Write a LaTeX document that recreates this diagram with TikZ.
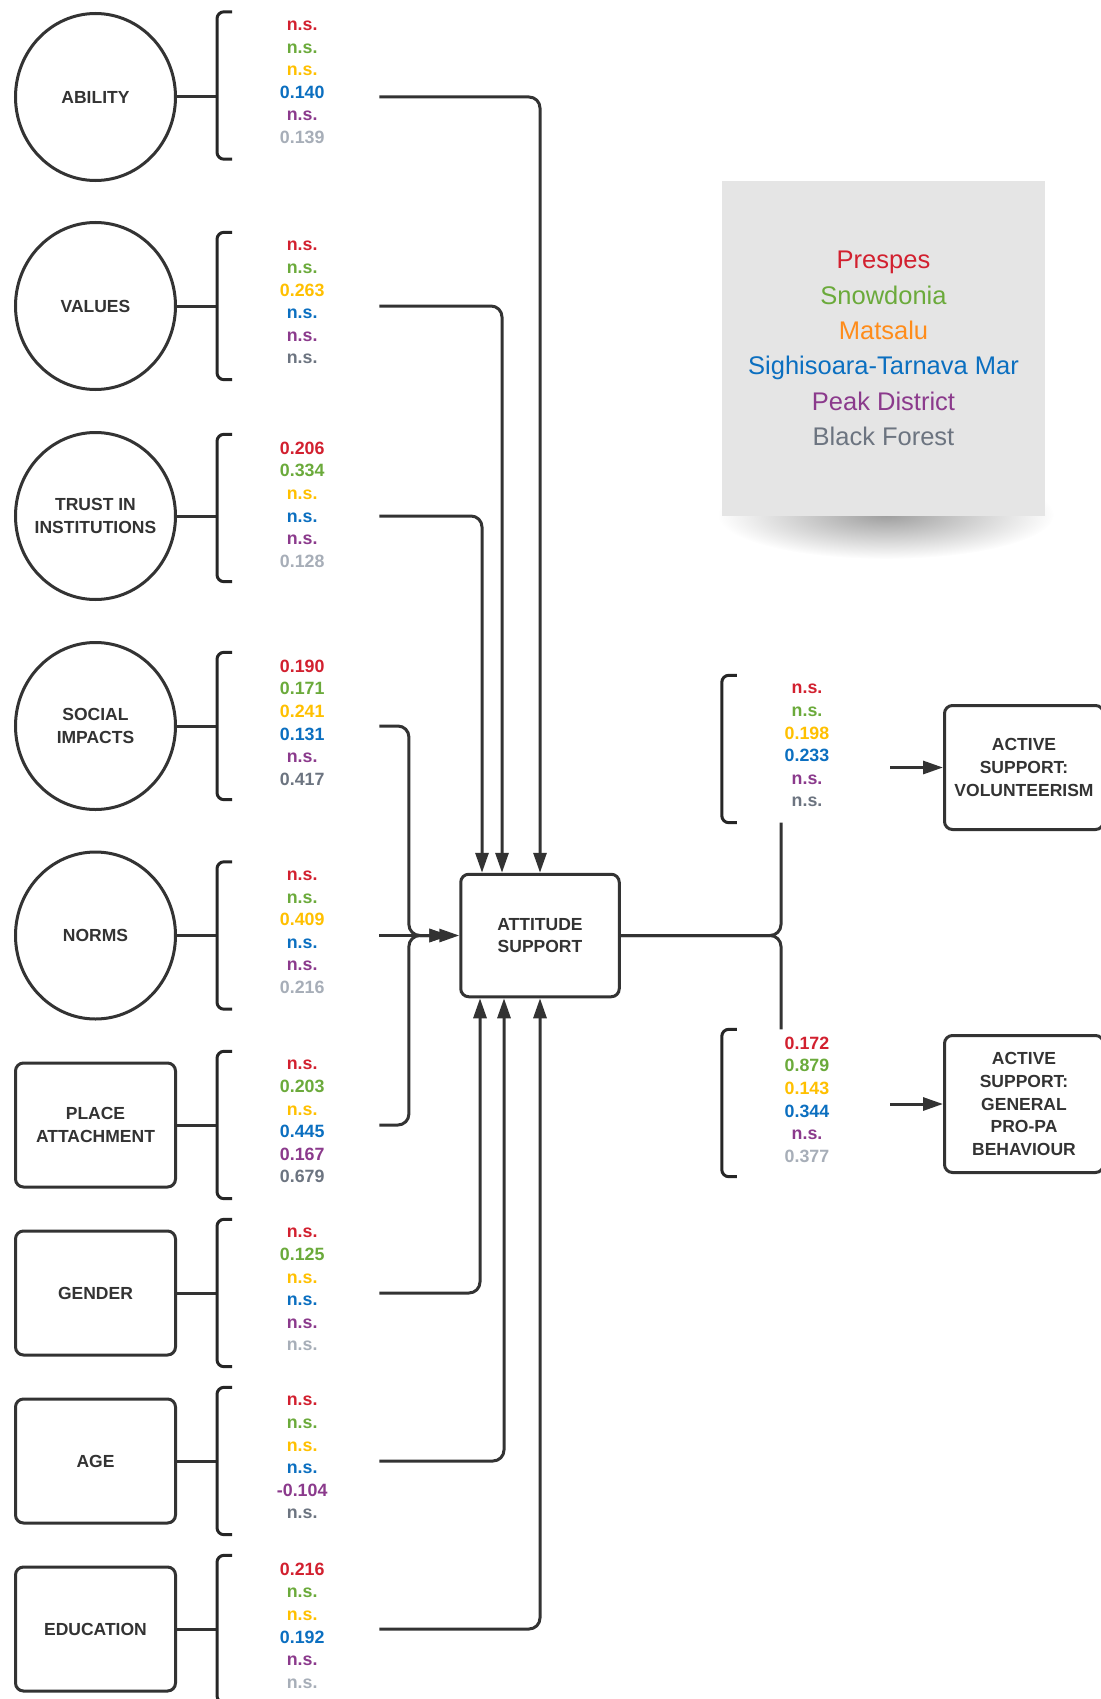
\documentclass[tikz,border=0pt]{standalone}
\usepackage{fontspec}
\setmainfont{Liberation Sans}
\usetikzlibrary{positioning,arrows.meta,fadings,shapes.geometric}
\definecolor{ink}{HTML}{333333}
\definecolor{prespes}{HTML}{D2202F}
\definecolor{snowdonia}{HTML}{6BAA3B}
\definecolor{matsalu}{HTML}{FFC000}
\definecolor{matsalukey}{HTML}{FF8C1A}
\definecolor{tarnava}{HTML}{0B6FC0}
\definecolor{peak}{HTML}{8B3A8C}
\definecolor{forest}{HTML}{6C7480}
\definecolor{forestlight}{HTML}{A7AEB8}
\definecolor{keyfill}{HTML}{E5E5E5}
\tikzfading[name=softshadow, inner color=transparent!62, outer color=transparent!100]

\begin{document}
\begin{tikzpicture}[x=1pt,y=-1pt,construct/.style={draw=ink, line width=3pt, ellipse, minimum width=160pt, minimum height=167pt, inner sep=-15pt, align=center, text=ink, font=\bfseries\fontsize{17.5}{22.7}\selectfont},observed/.style={draw=ink, line width=3pt, rounded corners=8pt, minimum width=160pt, minimum height=124pt, inner sep=0pt, align=center, text=ink, font=\bfseries\fontsize{17.5}{22.7}\selectfont},coef/.style={minimum width=154pt, minimum height=147pt, inner sep=0pt, align=center, font=\bfseries\fontsize{17.8}{22.6}\selectfont, execute at begin node=\strut},brace/.style={draw=black!85, line width=3pt, rounded corners=7pt},conn/.style={draw=ink, line width=3pt, rounded corners=11pt},arrow/.style={conn, -{Triangle[length=20pt,width=13pt]}}]
\useasboundingbox[fill=white] (0,0) rectangle (1100,1699);
\node[construct] (ability) at (95.5,97) {ABILITY};
\node[construct] (values) at (95.5,306) {VALUES};
\node[construct] (trust) at (95.5,516) {TRUST IN\\INSTITUTIONS};
\node[construct] (social) at (95.5,726) {SOCIAL\\IMPACTS};
\node[construct] (norms) at (95.5,935.5) {NORMS};
\node[observed] (place) at (95.5,1125) {PLACE\\ATTACHMENT};
\node[observed] (gender) at (95.5,1293) {GENDER};
\node[observed] (age) at (95.5,1461) {AGE};
\node[observed] (education) at (95.5,1629) {EDUCATION};
\node[coef, right=48pt of ability, yshift=11.5pt] (vab) {\textcolor{prespes}{n.s.}\\\textcolor{snowdonia}{n.s.}\\\textcolor{matsalu}{n.s.}\\\textcolor{tarnava}{0.140}\\\textcolor{peak}{n.s.}\\\textcolor{forestlight}{0.139}};
\node[coef, right=48pt of values] (vva) {\textcolor{prespes}{n.s.}\\\textcolor{snowdonia}{n.s.}\\\textcolor{matsalu}{0.263}\\\textcolor{tarnava}{n.s.}\\\textcolor{peak}{n.s.}\\\textcolor{forest}{n.s.}};
\node[coef, right=48pt of trust, yshift=8pt] (vtr) {\textcolor{prespes}{0.206}\\\textcolor{snowdonia}{0.334}\\\textcolor{matsalu}{n.s.}\\\textcolor{tarnava}{n.s.}\\\textcolor{peak}{n.s.}\\\textcolor{forestlight}{0.128}};
\node[coef, right=48pt of social] (vso) {\textcolor{prespes}{0.190}\\\textcolor{snowdonia}{0.171}\\\textcolor{matsalu}{0.241}\\\textcolor{tarnava}{0.131}\\\textcolor{peak}{n.s.}\\\textcolor{forest}{0.417}};
\node[coef, right=48pt of norms] (vno) {\textcolor{prespes}{n.s.}\\\textcolor{snowdonia}{n.s.}\\\textcolor{matsalu}{0.409}\\\textcolor{tarnava}{n.s.}\\\textcolor{peak}{n.s.}\\\textcolor{forestlight}{0.216}};
\node[coef, right=48pt of place] (vpa) {\textcolor{prespes}{n.s.}\\\textcolor{snowdonia}{0.203}\\\textcolor{matsalu}{n.s.}\\\textcolor{tarnava}{0.445}\\\textcolor{peak}{0.167}\\\textcolor{forest}{0.679}};
\node[coef, right=48pt of gender] (vge) {\textcolor{prespes}{n.s.}\\\textcolor{snowdonia}{0.125}\\\textcolor{matsalu}{n.s.}\\\textcolor{tarnava}{n.s.}\\\textcolor{peak}{n.s.}\\\textcolor{forestlight}{n.s.}};
\node[coef, right=48pt of age] (vag) {\textcolor{prespes}{n.s.}\\\textcolor{snowdonia}{n.s.}\\\textcolor{matsalu}{n.s.}\\\textcolor{tarnava}{n.s.}\\\textcolor{peak}{-0.104}\\\textcolor{forest}{n.s.}};
\node[coef, right=48pt of education] (ved) {\textcolor{prespes}{0.216}\\\textcolor{snowdonia}{n.s.}\\\textcolor{matsalu}{n.s.}\\\textcolor{tarnava}{0.192}\\\textcolor{peak}{n.s.}\\\textcolor{forestlight}{n.s.}};
\node[observed, minimum width=158.5pt, minimum height=122.5pt] (att) at (540,935.5) {ATTITUDE\\SUPPORT};
\node[coef] (rvo) at (807,749) {\textcolor{prespes}{n.s.}\\\textcolor{snowdonia}{n.s.}\\\textcolor{matsalu}{0.198}\\\textcolor{tarnava}{0.233}\\\textcolor{peak}{n.s.}\\\textcolor{forest}{n.s.}};
\node[coef] (rge) at (807,1103) {\textcolor{prespes}{0.172}\\\textcolor{snowdonia}{0.879}\\\textcolor{matsalu}{0.143}\\\textcolor{tarnava}{0.344}\\\textcolor{peak}{n.s.}\\\textcolor{forestlight}{0.377}};
\node[observed, minimum width=159pt] (vol) at (1024,767.5) {ACTIVE\\SUPPORT:\\VOLUNTEERISM};
\node[observed, minimum width=159pt, minimum height=137pt] (gen) at (1024,1104) {ACTIVE\\SUPPORT:\\GENERAL\\PRO-PA\\BEHAVIOUR};
\fill[black, path fading=softshadow] (886,515) ellipse (168 and 44);
\node[fill=keyfill, minimum width=323pt, minimum height=335pt, inner sep=0pt, align=center, font=\fontsize{25.5}{35.4}\selectfont] (key) at (883.5,348.5) {\textcolor{prespes}{Prespes}\\\textcolor{snowdonia}{Snowdonia}\\\textcolor{matsalukey}{Matsalu}\\\textcolor{tarnava}{Sighisoara-Tarnava Mar}\\\textcolor{peak}{Peak District}\\\textcolor{forest}{Black Forest}};
\foreach \c/\v in {ability/vab,values/vva,trust/vtr,social/vso,norms/vno,place/vpa,gender/vge,age/vag,education/ved}
  {\draw[conn] (\c.east) -- ([xshift=-8pt]\v.west |- \c.east);
   \draw[brace] ([xshift=7pt]\v.north west) -| ([xshift=-8pt]\v.west) |- ([xshift=7pt]\v.south west);}
\foreach \v in {rvo,rge}
  \draw[brace] ([xshift=7pt]\v.north west) -| ([xshift=-8pt]\v.west) |- ([xshift=7pt]\v.south west);
\coordinate (jl) at ([xshift=29.5pt]vno.east |- norms.east);
\draw[arrow] (vab.east |- ability.east) -| (att.north);
\draw[arrow] (vva.east |- values.east) -| ([xshift=-38pt]att.north);
\draw[arrow] (vtr.east |- trust.east) -| ([xshift=-58pt]att.north);
\draw[arrow, shorten >=10pt] (vso.east |- social.east) -| (jl) -- (att.west);
\draw[arrow, shorten >=10pt] (vpa.east |- place.east) -| (jl) -- (att.west);
\draw[arrow] (vno.east |- norms.east) -- (att.west);
\draw[arrow] (vge.east |- gender.east) -| ([xshift=-60pt]att.south);
\draw[arrow] (vag.east |- age.east) -| ([xshift=-36pt]att.south);
\draw[arrow] (ved.east |- education.east) -| (att.south);
\draw[conn] (att.east) -| ([xshift=-26pt]rvo.south);
\draw[conn] (att.east) -| ([xshift=-26pt]rge.north);
\draw[arrow] ([xshift=6pt]rvo.east |- vol.west) -- (vol.west);
\draw[arrow] ([xshift=6pt]rge.east |- gen.west) -- (gen.west);
\end{tikzpicture}
\end{document}
